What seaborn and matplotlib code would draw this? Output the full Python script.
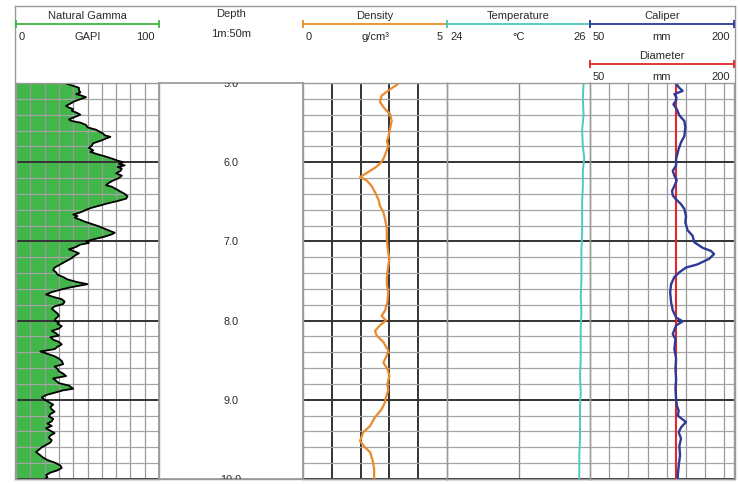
import numpy as np
import seaborn as sns
import matplotlib.pyplot as plt

# log data (depth in m)
gamma_depth = [5.00, 5.03, 5.06, 5.09, 5.12, 5.14, 5.16, 5.18, 5.21, 5.23, 5.26, 5.29, 5.31, 5.33,
               5.35, 5.38, 5.40, 5.43, 5.46, 5.48, 5.50, 5.53, 5.56, 5.59, 5.62, 5.64, 5.66, 5.68,
               5.70, 5.73, 5.76, 5.79, 5.82, 5.85, 5.87, 5.90, 5.93, 5.96, 5.98, 6.00, 6.02, 6.04,
               6.06, 6.08, 6.11, 6.14, 6.17, 6.20, 6.23, 6.26, 6.29, 6.31, 6.34, 6.37, 6.40, 6.43,
               6.46, 6.49, 6.52, 6.55, 6.58, 6.61, 6.64, 6.66, 6.68, 6.70, 6.72, 6.75, 6.78, 6.81,
               6.84, 6.87, 6.89, 6.91, 6.94, 6.97, 7.00, 7.02, 7.04, 7.07, 7.10, 7.12, 7.15, 7.18,
               7.21, 7.24, 7.27, 7.30, 7.33, 7.36, 7.39, 7.42, 7.45, 7.48, 7.51, 7.54, 7.56, 7.58,
               7.61, 7.64, 7.67, 7.70, 7.73, 7.76, 7.79, 7.82, 7.85, 7.88, 7.91, 7.94, 7.97, 8.00,
               8.02, 8.04, 8.07, 8.10, 8.13, 8.16, 8.19, 8.21, 8.24, 8.27, 8.30, 8.33, 8.36, 8.39,
               8.42, 8.45, 8.48, 8.51, 8.55, 8.58, 8.61, 8.64, 8.67, 8.70, 8.73, 8.76, 8.79, 8.82,
               8.86, 8.88, 8.91, 8.94, 8.97, 9.00, 9.03, 9.06, 9.09, 9.12, 9.15, 9.18, 9.21, 9.24,
               9.27, 9.30, 9.33, 9.36, 9.39, 9.42, 9.45, 9.48, 9.51, 9.54, 9.57, 9.60, 9.63, 9.66,
               9.70, 9.73, 9.76, 9.80, 9.83, 9.86, 9.89, 9.92, 9.95, 9.98, 10.00]
gamma_api = [34, 39, 44, 44, 45, 42, 46, 49, 44, 41, 38, 35, 37, 40,
             39, 43, 45, 41, 37, 39, 45, 49, 50, 56, 59, 61, 62, 66,
             63, 59, 54, 53, 51, 54, 52, 57, 63, 68, 71, 75, 72, 76,
             71, 74, 73, 70, 74, 72, 68, 65, 63, 67, 70, 73, 76, 78,
             77, 71, 64, 58, 52, 48, 44, 40, 43, 41, 44, 48, 53, 58,
             62, 66, 69, 67, 62, 55, 49, 51, 45, 42, 37, 40, 44, 41,
             39, 36, 33, 30, 27, 26, 28, 29, 33, 36, 42, 50, 44, 38,
             31, 25, 21, 26, 32, 34, 33, 27, 25, 27, 29, 30, 28, 27,
             30, 29, 32, 30, 25, 28, 30, 24, 26, 30, 32, 29, 27, 17,
             22, 27, 30, 32, 33, 27, 29, 30, 33, 35, 26, 28, 30, 37,
             40, 33, 27, 21, 18, 20, 23, 26, 24, 25, 27, 24, 23, 26,
             25, 22, 25, 21, 24, 27, 24, 23, 25, 24, 21, 18, 16, 14,
             17, 19, 22, 28, 31, 32, 29, 24, 21, 22, 20]

dens_depth = [5.01, 5.08, 5.16, 5.24, 5.33, 5.39, 5.48, 5.58, 5.69, 5.73, 5.79, 5.85, 5.96, 6.02,
              6.07, 6.15, 6.19, 6.23, 6.30, 6.38, 6.47, 6.55, 6.63, 6.72, 6.84, 6.97, 7.05, 7.14,
              7.22, 7.31, 7.39, 7.47, 7.54, 7.64, 7.77, 7.87, 7.94, 8.00, 8.06, 8.13, 8.19, 8.27,
              8.38, 8.44, 8.53, 8.61, 8.70, 8.80, 8.88, 8.97, 9.03, 9.12, 9.22, 9.33, 9.41, 9.52,
              9.60, 9.66, 9.77, 9.87, 10.00]
dens_gcc = [3.31, 3.02, 2.73, 2.67, 2.85, 3.02, 3.08, 3.02, 2.96, 2.91, 2.96, 2.91, 2.79, 2.67,
            2.50, 2.15, 1.98, 2.21, 2.38, 2.50, 2.62, 2.67, 2.79, 2.85, 2.91, 2.91, 2.93, 2.96,
            3.00, 2.96, 2.93, 2.91, 2.91, 2.96, 2.93, 2.85, 2.73, 2.88, 2.67, 2.50, 2.56, 2.79,
            2.96, 2.91, 2.79, 2.93, 3.00, 2.93, 2.96, 2.88, 2.85, 2.73, 2.50, 2.33, 2.09, 1.98,
            2.15, 2.33, 2.42, 2.47, 2.47]

temp_depth = [5.0, 5.2, 5.4, 5.6, 5.8, 5.95, 6.1, 6.3, 6.5, 6.7, 6.9, 7.1, 7.3, 7.5, 7.7,
              7.9, 8.1, 8.3, 8.5, 8.7, 8.9, 9.1, 9.3, 9.5, 9.7, 9.9, 10.0]
temp_c = [25.91, 25.90, 25.91, 25.89, 25.90, 25.92, 25.90, 25.90, 25.89, 25.89, 25.89, 25.88,
          25.88, 25.88, 25.87, 25.88, 25.87, 25.87, 25.87, 25.86, 25.87, 25.86, 25.86, 25.86,
          25.85, 25.85, 25.85]

cal_depth = [5.01, 5.06, 5.10, 5.14, 5.18, 5.22, 5.27, 5.33, 5.41, 5.48, 5.56, 5.67, 5.75, 5.83,
             5.96, 6.04, 6.11, 6.17, 6.23, 6.30, 6.36, 6.42, 6.47, 6.53, 6.59, 6.68, 6.76, 6.86,
             6.93, 7.01, 7.08, 7.12, 7.16, 7.22, 7.29, 7.33, 7.39, 7.45, 7.54, 7.64, 7.77, 7.87,
             7.96, 8.01, 8.06, 8.17, 8.23, 8.36, 8.48, 8.61, 8.74, 8.86, 8.99, 9.07, 9.14, 9.20,
             9.28, 9.35, 9.41, 9.49, 9.58, 9.70, 9.83, 9.96, 10.00]
cal_mm = [139.7, 143.0, 146.5, 137.9, 140.0, 139.7, 136.9, 140.4, 143.1, 148.3, 149.3, 148.3,
          144.8, 142.4, 139.7, 139.7, 136.2, 137.9, 140.4, 137.9, 135.5, 136.2, 139.7, 144.8,
          148.3, 150.0, 149.3, 151.7, 156.9, 158.6, 167.2, 175.9, 179.3, 174.1, 162.0, 150.0,
          143.1, 137.9, 134.5, 133.5, 134.5, 136.2, 139.7, 146.5, 139.7, 136.2, 139.0, 137.9,
          139.7, 139.0, 139.7, 139.0, 139.7, 140.4, 142.4, 141.4, 150.0, 144.8, 142.4, 144.8,
          143.1, 143.8, 142.4, 141.4, 141.4]

diam_depth = [5.0, 10.0]
diam_mm = [140, 140]

depth_ticks = [5.0, 6.0, 7.0, 8.0, 9.0, 10.0]

# header scales
titles = ['Natural Gamma', 'Density', 'Temperature', 'Caliper', 'Diameter']
units = ['GAPI', 'g/cm³', '°C', 'mm', 'mm']
lows = ['0', '0', '24', '50', '50']
highs = ['100', '5', '26', '200', '200']

GREEN, ORANGE, CYAN, NAVY, RED = '#41b649', '#e98a2c', '#4cc9c0', '#2e3a97', '#e3262b'
TXT = '#2a2a2a'
EDGE = '#9a9a9a'
FS = 8

sns.set_theme(style='white')
plt.rcParams['font.family'] = ['Liberation Sans', 'DejaVu Sans']

W, H = 740, 485
fig = plt.figure(figsize=(7.4, 4.85), dpi=100)


def box(x0, x1, y0, y1, **kw):
    return fig.add_axes([x0 / W, 1 - y1 / H, (x1 - x0) / W, (y1 - y0) / H], **kw)


TOP, BOT, HTOP = 84, 480, 7

# outer frame
frame = box(15, 735, HTOP, BOT)
frame.set_xticks([])
frame.set_yticks([])
for s in frame.spines.values():
    s.set_color(EDGE)
    s.set_linewidth(1)


def track(x0, x1, xlim, xgrid, xcol, xlw=1.0):
    ax = box(x0, x1, TOP, BOT)
    ax.set_facecolor('none')
    ax.set_xlim(*xlim)
    ax.set_ylim(10, 5)
    ax.set_yticks(np.arange(5, 10.01, 1.0))
    ax.set_yticks(np.arange(5, 10.01, 0.2), minor=True)
    ax.set_xticks(xgrid)
    ax.tick_params(which='both', length=0, labelleft=False, labelbottom=False)
    ax.grid(True, axis='y', which='minor', color='#a5a5a5', lw=0.9)
    ax.grid(True, axis='y', which='major', color='#333333', lw=1.4)
    if len(xgrid):
        ax.grid(True, axis='x', which='major', color=xcol, lw=xlw)
    for s in ax.spines.values():
        s.set_color(EDGE)
        s.set_linewidth(1)
    return ax


def header(x0, x1, xlim):
    ax = box(x0, x1, HTOP, TOP)
    ax.set_xlim(*xlim)
    ax.set_ylim(TOP, HTOP)
    ax.axis('off')
    return ax


def scale(ax, title, unit, lo, hi, color, y):
    a, b = ax.get_xlim()
    ax.text((a + b) / 2, y, title, ha='center', va='center', fontsize=FS, color=TXT)
    ax.plot([a, b], [y + 8.5, y + 8.5], color=color, lw=1.3, marker='|', ms=5.5, mew=1.3,
            clip_on=False)
    ax.annotate(lo, (a, y + 21), xytext=(3, 0), textcoords='offset pixels', ha='left',
                va='center', fontsize=FS, color=TXT)
    ax.text((a + b) / 2, y + 21, unit, ha='center', va='center', fontsize=FS, color=TXT)
    ax.annotate(hi, (b, y + 21), xytext=(-4, 0), textcoords='offset pixels', ha='right',
                va='center', fontsize=FS, color=TXT)


# gamma ray track
ax_gr = track(16, 159, (0, 100), np.arange(10, 100, 10), '#999999', 0.9)
ax_gr.fill_betweenx(gamma_depth, 0, gamma_api, color=GREEN, lw=0, zorder=1)
sns.lineplot(x=gamma_api, y=gamma_depth, orient='y', sort=False, estimator=None,
             color='black', lw=1.3, ax=ax_gr)
ax_gr.set_axisbelow('line')

# depth track
ax_d = box(159, 303, TOP, BOT)
ax_d.set_facecolor('none')
ax_d.set_ylim(10, 5)
ax_d.set_xticks([])
ax_d.set_yticks([])
for s in ax_d.spines.values():
    s.set_color(EDGE)
for d in depth_ticks:
    ax_d.text(0.5, d, f'{d:.1f}', transform=ax_d.get_yaxis_transform(), ha='center',
              va='center', fontsize=7.8, color=TXT, clip_on=True)

# density + temperature
ax_rho = track(303, 447, (0, 5), [1, 2, 3, 4], '#333333', 1.4)
sns.lineplot(x=dens_gcc, y=dens_depth, orient='y', sort=False, estimator=None,
             color=ORANGE, lw=1.6, ax=ax_rho)
ax_t = track(447, 590, (24, 26), [25], '#8a8a8a', 1.0)
sns.lineplot(x=temp_c, y=temp_depth, orient='y', sort=False, estimator=None,
             color=CYAN, lw=1.4, ax=ax_t)

# caliper + diameter
ax_cal = track(590, 734, (50, 200), np.arange(70, 200, 20), '#999999', 0.9)
sns.lineplot(x=diam_mm, y=diam_depth, orient='y', sort=False, estimator=None,
             color=RED, lw=1.5, ax=ax_cal)
sns.lineplot(x=cal_mm, y=cal_depth, orient='y', sort=False, estimator=None,
             color=NAVY, lw=1.7, ax=ax_cal)

for ax in (ax_gr, ax_rho, ax_t, ax_cal):
    ax.set_xlabel('')
    ax.set_ylabel('')

# headers
h_gr = header(16, 159, (0, 100))
scale(h_gr, titles[0], units[0], lows[0], highs[0], GREEN, 16)
h_d = header(159, 303, (0, 1))
h_d.text(0.5, 14, 'Depth', ha='center', va='center', fontsize=FS, color=TXT)
h_d.text(0.5, 34, '1m:50m', ha='center', va='center', fontsize=FS, color=TXT)
h_rho = header(303, 447, (0, 5))
scale(h_rho, titles[1], units[1], lows[1], highs[1], ORANGE, 16)
h_t = header(447, 590, (24, 26))
scale(h_t, titles[2], units[2], lows[2], highs[2], CYAN, 16)
h_cal = header(590, 734, (50, 200))
scale(h_cal, titles[3], units[3], lows[3], highs[3], NAVY, 16)
scale(h_cal, titles[4], units[4], lows[4], highs[4], RED, 56)

fig.savefig('out.png', dpi=100)
